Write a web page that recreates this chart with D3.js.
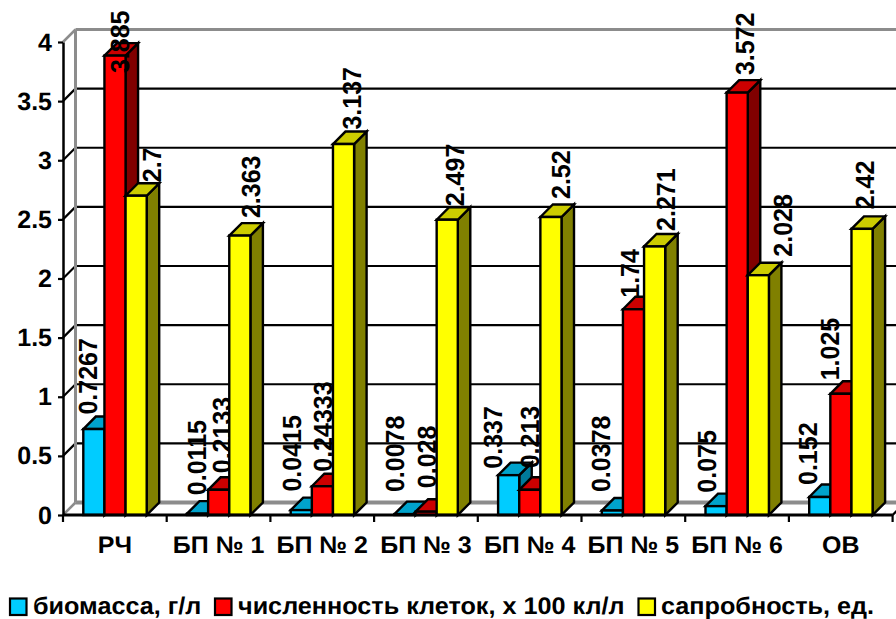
<!DOCTYPE html>
<html lang="ru">
<head>
<meta charset="utf-8">
<script src="https://cdn.jsdelivr.net/npm/d3@7/dist/d3.min.js"></script>
<style>
  html, body { margin: 0; padding: 0; background: #fff; }
  svg { display: block; }
  text { font-family: "Liberation Sans", Arial, sans-serif; fill: #000; text-rendering: geometricPrecision; }
</style>
</head>
<body>
<svg id="chart" width="896" height="619"></svg>
<script>
// Chart data
const categories = ["РЧ", "БП № 1", "БП № 2", "БП № 3", "БП № 4", "БП № 5", "БП № 6", "ОВ"];
const biomass = [0.7267, 0.0115, 0.0415, 0.0078, 0.337, 0.0378, 0.075, 0.152];
const cellCount = [3.885, 0.2133, 0.24333, 0.028, 0.213, 1.74, 3.572, 1.025];
const saprobity = [2.7, 2.363, 3.137, 2.497, 2.52, 2.271, 2.028, 2.42];
const seriesNames = ["биомасса, г/л", "численность клеток, х 100 кл/л", "сапробность, ед."];
const yTicks = [0, 0.5, 1, 1.5, 2, 2.5, 3, 3.5, 4];

// Face colours of each series: front, top, side
const palette = [
  { front: "#00ccff", top: "#00a3cc", side: "#007a99" },
  { front: "#ff0000", top: "#cc0000", side: "#800000" },
  { front: "#ffff00", top: "#cccc00", side: "#808000" }
];

// Hand placement of value labels relative to their default spot above each bar
const labelShiftX = [
  [-12.5, -7, -16, -16, -22, -18, -16, -18],
  [-1, -3, -6, -6, -6, -10, 1, -17],
  [9, 5, 2, 1, 4, 4.5, 18, -3]
];
const labelShiftY = [
  [1, -3, -3, -6.5, 9, -3, 2, 3.5],
  [33, -1, 1, -8, -6, 4, -2, 2],
  [2, -2, 1, 2, -2.5, 0, -3, -4]
];

// Layout
const plot = { left: 63, right: 892.6, top: 42, bottom: 515 };
const depth = { x: 12.5, y: -12.5 };
const svg = d3.select("#chart");

const x = d3.scaleBand().domain(categories).range([plot.left, plot.right]);
const xInner = d3.scaleBand().domain(d3.range(3)).range([20.3, 83.7]);
const y = d3.scaleLinear().domain([0, 4]).range([plot.bottom, plot.top]);
const seriesValues = [biomass, cellCount, saprobity];

// Back wall, side wall and floor
const frame = svg.append("g");
const backY = v => y(v) + depth.y;
const backLeft = plot.left + depth.x;

frame.selectAll("line.grid").data(yTicks.filter(v => v > 0 && v < 4)).join("line")
  .attr("x1", backLeft).attr("x2", 896)
  .attr("y1", backY).attr("y2", backY)
  .attr("stroke", "#000").attr("stroke-width", 2.2);
frame.selectAll("line.wing").data(yTicks.filter(v => v > 0 && v < 4)).join("line")
  .attr("x1", plot.left).attr("x2", backLeft)
  .attr("y1", y).attr("y2", backY)
  .attr("stroke", "#000").attr("stroke-width", 2.2);

const gray = "#8c8c8c";
frame.append("line").attr("x1", backLeft).attr("x2", 896)
  .attr("y1", backY(4)).attr("y2", backY(4)).attr("stroke", gray).attr("stroke-width", 3);
frame.append("line").attr("x1", backLeft).attr("x2", 896)
  .attr("y1", backY(0)).attr("y2", backY(0)).attr("stroke", gray).attr("stroke-width", 4);
frame.append("line").attr("x1", backLeft).attr("x2", backLeft)
  .attr("y1", backY(4)).attr("y2", backY(0)).attr("stroke", gray).attr("stroke-width", 3);
frame.append("line").attr("x1", plot.left).attr("x2", backLeft)
  .attr("y1", y(4)).attr("y2", backY(4)).attr("stroke", gray).attr("stroke-width", 2.5);
frame.append("line").attr("x1", plot.left).attr("x2", backLeft)
  .attr("y1", y(0)).attr("y2", backY(0)).attr("stroke", gray).attr("stroke-width", 2.5);
frame.append("line").attr("x1", plot.right).attr("x2", plot.right + depth.x)
  .attr("y1", y(0)).attr("y2", backY(0)).attr("stroke", "#000").attr("stroke-width", 2.2);

// A cuboid bar made of front, top and side faces
function drawBars(seriesIndex) {
  const colours = palette[seriesIndex];
  const w = xInner.bandwidth();
  const g = svg.append("g").attr("stroke", "#000").attr("stroke-width", 2.4).attr("stroke-linejoin", "miter");
  const bar = g.selectAll("g").data(seriesValues[seriesIndex]).join("g")
    .attr("transform", (d, i) => `translate(${x(categories[i]) + xInner(seriesIndex)},0)`);
  bar.append("path").attr("fill", colours.side)
    .attr("d", d => `M${w},${y(d)}l${depth.x},${depth.y}V${y(0) + depth.y}L${w},${y(0)}Z`);
  bar.append("path").attr("fill", colours.top)
    .attr("d", d => `M0,${y(d)}l${depth.x},${depth.y}h${w}l${-depth.x},${-depth.y}Z`);
  bar.append("rect").attr("fill", colours.front)
    .attr("x", 0).attr("width", w)
    .attr("y", y).attr("height", d => y(0) - y(d));
}

// Rotated value labels
function drawLabels(seriesIndex) {
  svg.append("g").selectAll("text").data(seriesValues[seriesIndex]).join("text")
    .attr("text-anchor", "start")
    .attr("dy", "0.36em")
    .attr("font-size", 25)
    .attr("font-weight", "bold")
    .attr("transform", (d, i) => {
      const cx = x(categories[i]) + xInner(seriesIndex) + xInner.bandwidth() / 2 + 6 + labelShiftX[seriesIndex][i];
      const cy = y(d) + depth.y - 3 + labelShiftY[seriesIndex][i];
      return `translate(${cx},${cy}) rotate(-90) scale(1,1.05)`;
    })
    .text(d => String(d));
}

// Blue and red sit under their labels; yellow bars cover the neighbouring labels
drawBars(0);
drawBars(1);
drawLabels(0);
drawLabels(1);
drawBars(2);
drawLabels(2);

// Value axis
const yAxis = svg.append("g").attr("transform", `translate(${plot.left},0)`)
  .call(d3.axisLeft(y).tickValues(yTicks).tickFormat(d => String(d)).tickSize(5).tickSizeOuter(0).tickPadding(0));
yAxis.selectAll("path.domain").attr("stroke", "#000").attr("stroke-width", 2.5);
yAxis.selectAll(".tick line").attr("stroke", "#000").attr("stroke-width", 2.2);
yAxis.selectAll(".tick text")
  .attr("x", 0).attr("font-size", 25).attr("font-weight", "bold")
  .attr("font-family", "Liberation Sans")
  .attr("transform", "translate(-11,0)");

// Category axis: labels centred in each band, ticks on the band edges
const xAxis = svg.append("g").attr("transform", `translate(0,${plot.bottom})`)
  .call(d3.axisBottom(x).tickSize(0).tickPadding(0));
xAxis.selectAll("path.domain").remove();
xAxis.selectAll(".tick text")
  .attr("y", 0).attr("dy", 0).attr("font-size", 24).attr("font-weight", "bold")
  .attr("font-family", "Liberation Sans")
  .attr("transform", "translate(0,37.5) scale(1.04,1)");
xAxis.append("line").attr("x1", plot.left).attr("x2", plot.right).attr("stroke", "#000").attr("stroke-width", 3);
xAxis.selectAll("line.edge").data(categories.concat([null])).join("line")
  .attr("class", "edge")
  .attr("x1", (d, i) => plot.left + i * x.step()).attr("x2", (d, i) => plot.left + i * x.step())
  .attr("y1", 0).attr("y2", 7)
  .attr("stroke", "#000").attr("stroke-width", 2.2);

// Legend
const legendBoxX = [10, 215, 638.5];
const legendTextX = [33, 238, 661];
const legend = svg.append("g");
seriesNames.forEach((name, i) => {
  legend.append("rect")
    .attr("x", legendBoxX[i]).attr("y", 598.5).attr("width", 16.5).attr("height", 16.5)
    .attr("fill", palette[i].front).attr("stroke", "#000").attr("stroke-width", 2.2);
  legend.append("text")
    .attr("font-size", 24).attr("font-weight", "bold")
    .attr("transform", `translate(${legendTextX[i]},614) scale(1.05,1)`)
    .text(name);
});
</script>
</body>
</html>
